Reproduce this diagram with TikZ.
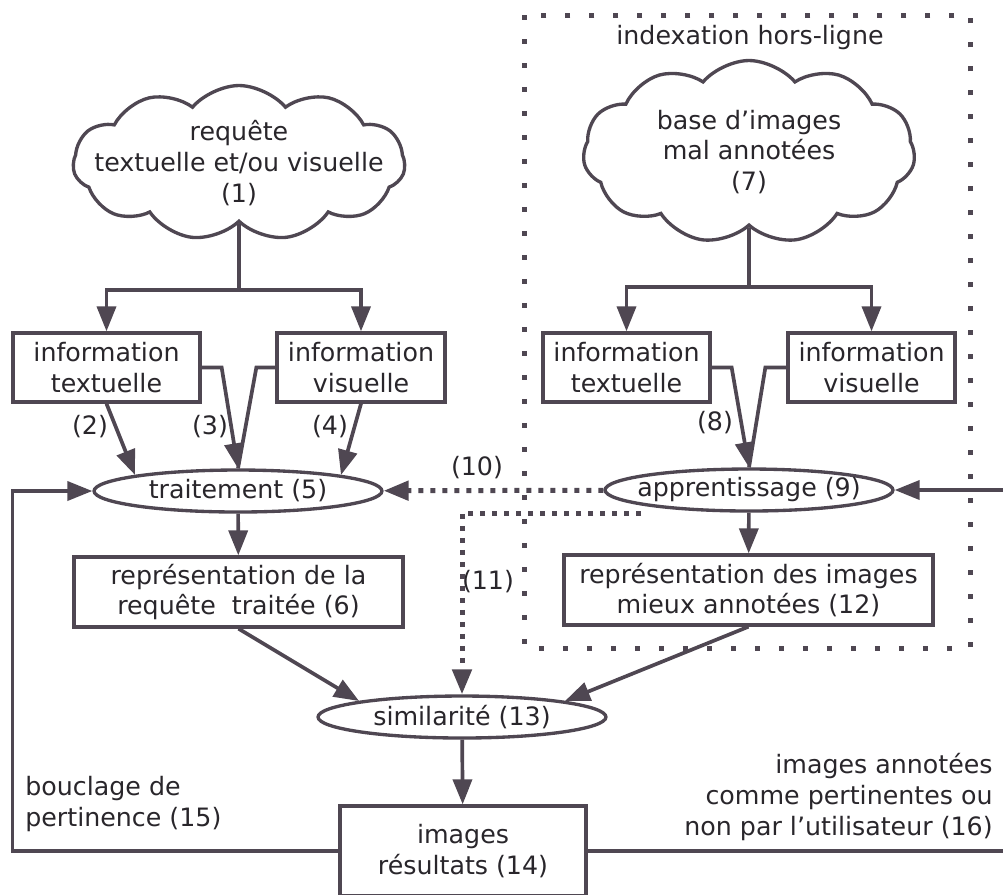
\documentclass[tikz,border=0pt]{standalone}
\usepackage{fontspec}
\setmainfont{DejaVu Sans}
\usetikzlibrary{arrows.meta,calc,shapes.geometric,shapes.symbols}
\definecolor{LineClr}{rgb}{0.31,0.28,0.32}
\definecolor{TextClr}{rgb}{0.16,0.15,0.17}

\begin{document}
\begin{tikzpicture}[x=0.02cm,y=-0.02cm,
  font=\fontsize{14.4}{17.5}\selectfont,
  box/.style={draw=LineClr,line width=1.9pt,fill=white,text=TextClr,align=center,inner sep=0pt},
  oval/.style={ellipse,draw=LineClr,line width=1.9pt,fill=white,text=TextClr,inner sep=0pt,minimum width=5.76cm,minimum height=0.84cm},
  nuage/.style={cloud,cloud puffs=11,cloud puff arc=100,cloud ignores aspect,draw=LineClr,line width=1.9pt,fill=white,text=TextClr,align=center,inner sep=0pt,minimum width=6.64cm},
  fleche/.style={draw=LineClr,line width=2.1pt,-{Triangle[length=0.5cm,width=0.38cm]}},
  trait/.style={draw=LineClr,line width=2.1pt},
  pointille/.style={draw=LineClr,line width=0.1cm,dash pattern=on 0.1cm off 0.14cm,-{Triangle[length=0.5cm,width=0.38cm]}},
  cadre/.style={draw=LineClr,line width=0.1cm,dash pattern=on 0.1cm off 0.38cm},
  etiq/.style={text=TextClr,inner sep=0pt}]
\useasboundingbox (0,0) rectangle (1003,894);

\draw[cadre] (524,15) rectangle (970,648);
\node[etiq] (hl) at (750,38) {indexation hors-ligne};

\node[nuage,minimum height=3.1cm] (req) at (239,163) {requête\\\makebox[0pt]{textuelle et/ou visuelle}\\(1)};
\node[nuage,minimum height=3.66cm] (base) at (749,152) {base d'images\\mal annotées\\(7)};

\node[box,minimum width=3.74cm,minimum height=1.38cm] (tl) at (106.5,367.5) {information\\textuelle};
\node[box,minimum width=3.36cm,minimum height=1.38cm] (vl) at (361,367.5) {information\\visuelle};
\node[box,minimum width=3.34cm,minimum height=1.38cm] (tr) at (626.5,367.5) {information\\textuelle};
\node[box,minimum width=3.34cm,minimum height=1.38cm] (vr) at (871.5,367.5) {information\\visuelle};

\node[oval] (trait) at (238,491) {\makebox[0pt]{traitement (5)}};
\node[oval] (appr) at (749,490) {\makebox[0pt]{apprentissage (9)}};
\node[box,minimum width=6.58cm,minimum height=1.4cm] (rq) at (238.5,592) {représentation de la\\requête~ traitée (6)};
\node[box,minimum width=7.38cm,minimum height=1.4cm] (ri) at (748.5,590) {représentation des images\\mieux annotées (12)};
\node[oval] (sim) at (462,717) {\makebox[0pt]{similarité (13)}};
\node[box,minimum width=4.92cm,minimum height=1.8cm] (res) at (463,851) {images\\résultats (14)};

\node[etiq] (l2) at (90,427) {(2)};
\node[etiq] (l3) at (210,427) {(3)};
\node[etiq] (l4) at (330,427) {(4)};
\node[etiq] (l8) at (715,423) {(8)};
\node[etiq] (l10) at (477,468) {(10)};
\node[etiq] (l11) at (488,582) {(11)};
\node[etiq,anchor=west,align=left] (l15) at (25,804) {bouclage de\\pertinence (15)};
\node[etiq,anchor=east,align=right] (l16) at (993,797) {images annotées\\comme pertinentes ou\\non par l'utilisateur (16)};

\coordinate (j1) at (239,290);
\coordinate (j2) at (749,287);
\draw[trait] (req.south) -- (j1);
\draw[fleche] (j1) -| (tl);
\draw[fleche] (j1) -| (vl);
\draw[trait] (base.south) -- (j2);
\draw[fleche] (j2) -| (tr);
\draw[fleche] (j2) -| (vr);

\draw[fleche] (tl.south) -- (trait.north west);
\draw[fleche] (tl.east) -- ++(20,0) -- (trait.north);
\draw[trait] (vl.west) -- ++(-19,0) -- (trait.north);
\draw[fleche] (vl.south) -- (trait.north east);
\draw[fleche] (tr.east) -- ++(20,0) -- (appr.north);
\draw[trait] (vr.west) -- ++(-21,0) -- (appr.north);

\draw[fleche] (trait) -- (rq);
\draw[fleche] (appr) -- (ri);
\draw[fleche] (rq.south) -- (sim.north west);
\draw[fleche] (ri.south) -- (sim.north east);
\draw[fleche] (sim) -- (res);
\draw[pointille] (appr) -- (trait);
\draw[pointille] ([shift={(-5,7)}]appr.south west) -| (sim.north);

\draw[fleche] (res.west) -| ([shift={(-80,0)}]trait.west) -- (trait.west);
\draw[fleche] (res.east) -| ([shift={(120,0)}]appr.east) -- (appr.east);
\end{tikzpicture}
\end{document}
